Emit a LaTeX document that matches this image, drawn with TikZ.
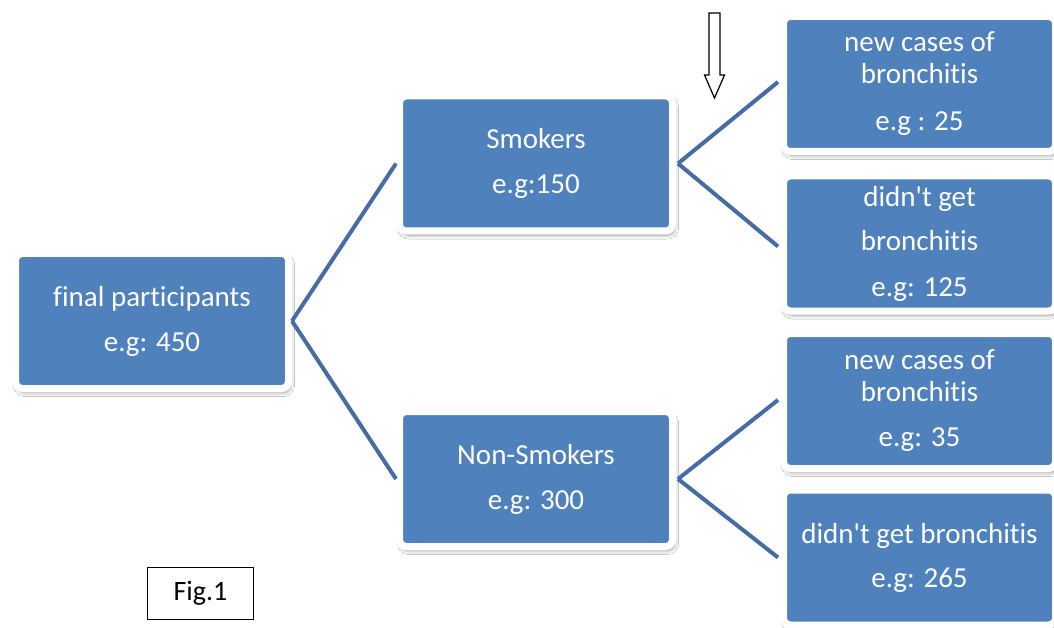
\documentclass[tikz,border=0pt]{standalone}
\usepackage{fontspec}
\setmainfont{Carlito}[Ligatures={TeXOff,CommonOff}]
\usetikzlibrary{shadows.blur}
\definecolor{boxblue}{HTML}{4F81BD}
\definecolor{lineblue}{HTML}{466CA6}
\begin{document}
\begin{tikzpicture}[x=1pt,y=-1pt,
  bbox/.style={rectangle, rounded corners=7pt, fill=boxblue, draw=white, line width=7pt,
    minimum width=273pt, minimum height=135pt, align=center, text=white,
    font=\fontsize{29}{45}\selectfont, inner sep=0pt,
    blur shadow={shadow xshift=2pt, shadow yshift=-4pt, shadow blur steps=6, shadow opacity=40, shadow blur radius=4pt}},
  conn/.style={draw=lineblue, line width=4pt}]
\useasboundingbox (0,0) rectangle (1054,628);
\fill[white] (0,0) rectangle (1054,628);

\node[bbox] (final) at (152,321) {final participants\\e.g: 450};
\node[bbox] (smok) at (536,163.5) {Smokers\\e.g:150};
\node[bbox] (non) at (536,479) {Non-Smokers\\e.g: 300};
\node[bbox, minimum width=272pt] (r1) at (919.5,84) {new cases of\\[-13pt]bronchitis\\[2pt]e.g : 25};
\node[bbox, minimum width=272pt] (r2) at (919.5,243.5) {didn't get\\[-1pt]bronchitis\\[1pt]e.g: 125};
\node[bbox, minimum width=272pt] (r3) at (919.5,401) {new cases of\\[-13pt]bronchitis\\[0pt]e.g: 35};
\node[bbox, minimum width=272pt] (r4) at (919.5,557.5) {didn't get bronchitis\\[-1pt]e.g: 265};

\draw[conn] (final.east) -- (smok.west);
\draw[conn] (final.east) -- (non.west);
\coordinate (sj) at ([xshift=2pt]smok.east);
\coordinate (nj) at ([xshift=2pt]non.east);
\draw[conn] (sj) -- ([xshift=-2pt,yshift=2pt]r1.west);
\draw[conn] (sj) -- ([xshift=-2pt,yshift=-3pt]r2.west);
\draw[conn] (nj) -- ([xshift=-2pt,yshift=1pt]r3.west);
\draw[conn] (nj) -- ([xshift=-2pt]r4.west);

\draw[black, line width=1.2pt, fill=white] (709,13) -- (720,13) -- (720,75) -- (724.5,75) -- (714.5,98) -- (704.5,75) -- (709,75) -- cycle;

\node[draw=black, line width=1.3pt, minimum width=106pt, minimum height=52pt, inner sep=0pt,
  font=\fontsize{28}{30}\selectfont, text=black] (fig) at (200.5,593.5) {Fig.1};
\end{tikzpicture}
\end{document}
